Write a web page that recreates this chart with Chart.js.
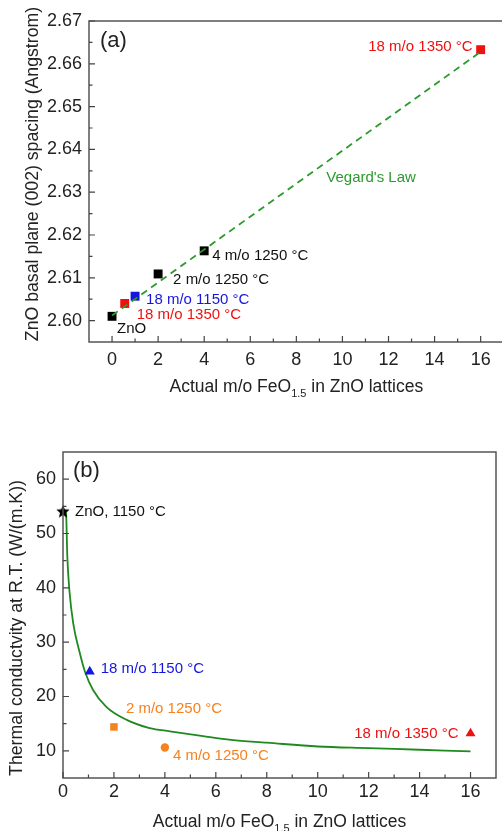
<!DOCTYPE html>
<html>
<head>
  <title>ZnO - FeO1.5</title>
  <script src="https://cdn.jsdelivr.net/npm/chart.js"></script>
  <style>
    html, body { margin: 0; padding: 0; background: #fff; }
    body { width: 502px; height: 831px; overflow: hidden; position: relative; }
    #boxA { position: absolute; left: 0; top: 0; }
    #boxB { position: absolute; left: 0; top: 420px; }
  </style>
</head>
<body>
  <div id="boxA"><canvas id="chartA" width="510" height="410"></canvas></div>
  <div id="boxB"><canvas id="chartB" width="502" height="411"></canvas></div>

  <script>
    // (a) basal plane spacing
    const aNames = ['ZnO', '18 m/o 1350 \u00B0C', '18 m/o 1150 \u00B0C', '2 m/o 1250 \u00B0C', '4 m/o 1250 \u00B0C', '18 m/o 1350 \u00B0C'];
    const aX = [0, 0.55, 1, 2, 4, 16];
    const aY = [2.6010, 2.6040, 2.6057, 2.6109, 2.6163, 2.6633];
    const vegardX = [0, 16];
    const vegardY = [2.6012, 2.6628];
    const aXTicks = [0, 2, 4, 6, 8, 10, 12, 14, 16];
    const aYTicks = [2.60, 2.61, 2.62, 2.63, 2.64, 2.65, 2.66, 2.67];

    // (b) thermal conductivity
    const bNames = ['ZnO, 1150 \u00B0C', '18 m/o 1150 \u00B0C', '2 m/o 1250 \u00B0C', '4 m/o 1250 \u00B0C', '18 m/o 1350 \u00B0C'];
    const bX = [0, 1.05, 2, 4, 16];
    const bY = [54.0, 24.6, 14.4, 10.6, 13.2];
    const fitX = [0.1, 0.12, 0.17, 0.25, 0.4, 0.66, 0.86, 1.18, 1.7, 2.5, 3.4, 4.2, 5.5, 6.6, 8, 10, 12, 14, 16];
    const fitY = [54.0, 53.7, 45.7, 39.6, 33.5, 28.0, 24.6, 21.2, 18.1, 15.7, 14.2, 13.6, 12.7, 12.0, 11.5, 10.8, 10.5, 10.2, 9.9];
    const bXTicks = [0, 2, 4, 6, 8, 10, 12, 14, 16];
    const bYTicks = [10, 20, 30, 40, 50, 60];

    const FONT = '"Liberation Sans", Arial, sans-serif';
    const pts = (xs, ys) => xs.map((v, i) => ({ x: v, y: ys[i] }));
    const mids = arr => arr.slice(0, -1).map((v, i) => (v + arr[i + 1]) / 2);

    // filled star marker
    function starMarker(r) {
      const c = document.createElement('canvas');
      c.width = c.height = r * 2 + 2;
      const g = c.getContext('2d');
      g.fillStyle = '#000';
      g.beginPath();
      for (let k = 0; k < 10; k++) {
        const rad = k % 2 ? r * 0.45 : r;
        const a = -Math.PI / 2 + k * Math.PI / 5;
        g.lineTo(r + 1 + rad * Math.cos(a), r + 1 + rad * Math.sin(a));
      }
      g.closePath();
      g.fill();
      return c;
    }

    // frame, inside ticks, annotations, axis titles
    const decor = {
      id: 'decor',
      afterDraw(chart, args, o) {
        const { ctx, chartArea: ca } = chart;
        const x = chart.scales.x, y = chart.scales.y;
        ctx.save();
        ctx.strokeStyle = '#555';
        ctx.lineWidth = 1.5;
        ctx.strokeRect(ca.left, ca.top, ca.right - ca.left, ca.bottom - ca.top);

        ctx.lineWidth = 1.2;
        ctx.strokeStyle = '#444';
        ctx.beginPath();
        const tx = (vals, len) => vals.forEach(v => {
          const p = x.getPixelForValue(v);
          ctx.moveTo(p, ca.bottom); ctx.lineTo(p, ca.bottom - len);
        });
        const ty = (vals, len) => vals.forEach(v => {
          const p = y.getPixelForValue(v);
          ctx.moveTo(ca.left, p); ctx.lineTo(ca.left + len, p);
        });
        tx(o.xMajor, 6); tx(mids(o.xMajor), 3.5);
        ty(o.yMajor, 6); ty(mids(o.yMajor), 3.5);
        ctx.stroke();

        ctx.textBaseline = 'middle';
        ctx.font = '15px ' + FONT;
        o.notes.forEach(n => {
          ctx.fillStyle = n.color;
          ctx.textAlign = n.align || 'left';
          ctx.fillText(n.text, x.getPixelForValue(n.x) + (n.dx || 0), y.getPixelForValue(n.y) + (n.dy || 0));
        });

        ctx.fillStyle = '#222';
        ctx.textAlign = 'left';
        ctx.font = '22px ' + FONT;
        ctx.fillText(o.tag, ca.left + o.tagDx, ca.top + o.tagDy);

        // x title with subscript
        ctx.textBaseline = 'alphabetic';
        const big = '17.5px ' + FONT, small = '11px ' + FONT;
        const parts = [['Actual m/o FeO', big, 0], ['1.5', small, 5], [' in ZnO lattices', big, 0]];
        let w = 0;
        parts.forEach(p => { ctx.font = p[1]; w += ctx.measureText(p[0]).width; });
        let cx = (ca.left + ca.right) / 2 - w / 2;
        parts.forEach(p => {
          ctx.font = p[1];
          ctx.fillText(p[0], cx, o.xTitleY + p[2]);
          cx += ctx.measureText(p[0]).width;
        });

        ctx.font = '17.7px ' + FONT;
        ctx.translate(o.yTitleX, o.yTitleY);
        ctx.rotate(-Math.PI / 2);
        ctx.textAlign = 'center';
        ctx.textBaseline = 'middle';
        ctx.fillText(o.yTitle, 0, 0);
        ctx.restore();
      }
    };

    function axes(xMin, xMax, xTicks, yMin, yMax, yTicks, yWidth, xHeight, xPad, yFmt) {
      return {
        x: {
          type: 'linear', min: xMin, max: xMax,
          grid: { display: false, drawTicks: false }, border: { display: false },
          afterBuildTicks: s => { s.ticks = xTicks.map(v => ({ value: v })); },
          afterFit: s => { s.height = xHeight; },
          ticks: { color: '#222', font: { size: 18, family: FONT }, padding: xPad, maxRotation: 0 }
        },
        y: {
          type: 'linear', min: yMin, max: yMax,
          grid: { display: false, drawTicks: false }, border: { display: false },
          afterBuildTicks: s => { s.ticks = yTicks.map(v => ({ value: v })); },
          afterFit: s => { s.width = yWidth; },
          ticks: { color: '#222', font: { size: 18, family: FONT }, padding: 7, callback: yFmt }
        }
      };
    }

    const common = {
      responsive: false,
      animation: false,
      plugins: { legend: { display: false }, tooltip: { enabled: false } }
    };

    const aColors = ['#000', '#ee1111', '#1515e0', '#000', '#000', '#ee1111'];
    new Chart(document.getElementById('chartA'), {
      type: 'scatter',
      data: {
        datasets: [
          {
            data: pts(vegardX, vegardY), showLine: true, pointRadius: 0,
            borderColor: '#2c9a2c', borderWidth: 1.8, borderDash: [7, 5]
          },
          {
            data: pts(aX, aY), pointStyle: 'rect', pointRadius: 6.3, clip: false,
            pointBackgroundColor: aColors, pointBorderColor: aColors, pointBorderWidth: 0
          }
        ]
      },
      options: {
        ...common,
        layout: { padding: { left: 0, top: 21, right: 6, bottom: 0 } },
        scales: axes(-1, 17, aXTicks, 2.595, 2.67, aYTicks, 89, 68, 7, v => v.toFixed(2)),
        plugins: {
          ...common.plugins,
          decor: {
            xMajor: aXTicks, yMajor: aYTicks,
            tag: '(a)', tagDx: 11, tagDy: 20,
            xTitleY: 392, yTitleX: 33, yTitleY: 174,
            yTitle: 'ZnO basal plane (002) spacing (Angstrom)',
            notes: [
              { text: aNames[5], x: aX[5], y: aY[5], dx: -8, dy: -3, align: 'right', color: '#ee1111' },
              { text: "Vegard's Law", x: 9.3, y: 2.6333, color: '#2c9a2c' },
              { text: aNames[4], x: aX[4], y: aY[4], dx: 8, dy: 5, color: '#111' },
              { text: aNames[3], x: aX[3], y: aY[3], dx: 15, dy: 6, color: '#111' },
              { text: aNames[2], x: aX[2], y: aY[2], dx: 11, dy: 4, color: '#1515e0' },
              { text: aNames[1], x: aX[1], y: aY[1], dx: 12, dy: 11, color: '#ee1111' },
              { text: aNames[0], x: aX[0], y: aY[0], dx: 5, dy: 13, color: '#111' }
            ]
          }
        }
      },
      plugins: [decor]
    });

    const bColors = ['#000', '#1515e0', '#f5821f', '#f5821f', '#ee1111'];
    new Chart(document.getElementById('chartB'), {
      type: 'scatter',
      data: {
        datasets: [
          {
            data: pts(bX, bY), clip: false,
            pointStyle: [starMarker(7), 'triangle', 'rect', 'circle', 'triangle'],
            pointRadius: [6, 5.8, 5.3, 4.2, 5.8],
            pointBackgroundColor: bColors, pointBorderColor: bColors, pointBorderWidth: 0
          },
          {
            data: pts(fitX, fitY), showLine: true, pointRadius: 0,
            borderColor: '#1f8a1f', borderWidth: 1.8, cubicInterpolationMode: 'monotone'
          }
        ]
      },
      options: {
        ...common,
        layout: { padding: { left: 0, top: 32, right: 3, bottom: 0 } },
        scales: axes(0, 17, bXTicks, 5, 65, bYTicks, 63, 53, 3, v => v),
        plugins: {
          ...common.plugins,
          decor: {
            xMajor: bXTicks, yMajor: bYTicks,
            tag: '(b)', tagDx: 10, tagDy: 19,
            xTitleY: 407, yTitleX: 17, yTitleY: 208,
            yTitle: 'Thermal conductvity at R.T. (W/(m.K))',
            notes: [
              { text: bNames[0], x: bX[0], y: bY[0], dx: 12, dy: 0, color: '#111' },
              { text: bNames[1], x: bX[1], y: bY[1], dx: 11, dy: -3, color: '#1515e0' },
              { text: bNames[2], x: bX[2], y: bY[2], dx: 12, dy: -18, color: '#f5821f' },
              { text: bNames[3], x: bX[3], y: bY[3], dx: 8, dy: 8, color: '#f5821f' },
              { text: bNames[4], x: bX[4], y: bY[4], dx: -12, dy: 0, align: 'right', color: '#ee1111' }
            ]
          }
        }
      },
      plugins: [decor]
    });
  </script>
</body>
</html>
